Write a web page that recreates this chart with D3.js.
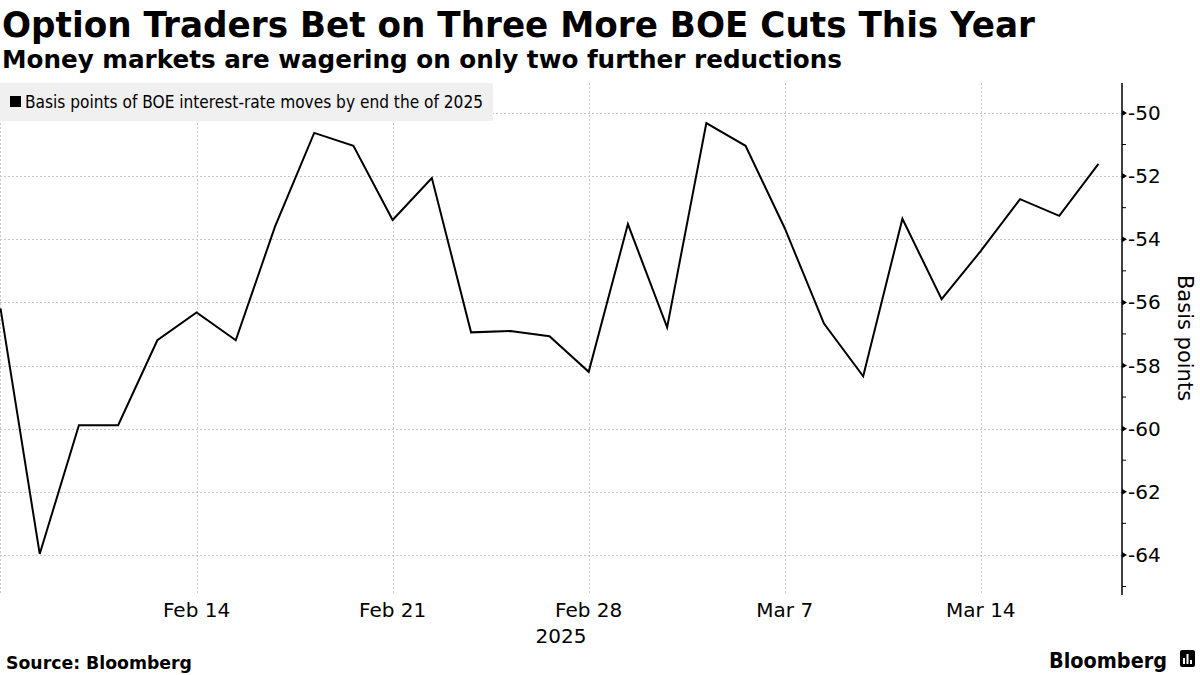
<!DOCTYPE html>
<html>
<head>
<meta charset="utf-8">
<script src="https://cdn.jsdelivr.net/npm/d3@7"></script>
<style>
  html, body { margin: 0; padding: 0; background: #fff; }
  svg { display: block; }
  text { font-family: "DejaVu Sans", sans-serif; }
</style>
</head>
<body>
<script>
// ---- data ----
const dates = ["2025-02-07","2025-02-10","2025-02-11","2025-02-12","2025-02-13","2025-02-14",
  "2025-02-17","2025-02-18","2025-02-19","2025-02-20","2025-02-21",
  "2025-02-24","2025-02-25","2025-02-26","2025-02-27","2025-02-28",
  "2025-03-03","2025-03-04","2025-03-05","2025-03-06","2025-03-07",
  "2025-03-10","2025-03-11","2025-03-12","2025-03-13","2025-03-14",
  "2025-03-17","2025-03-18","2025-03-19"];
const values = [-56.19,-63.97,-59.89,-59.89,-57.2,-56.32,
  -57.2,-53.6,-50.63,-51.04,-53.39,
  -52.06,-56.95,-56.91,-57.07,-58.2,
  -53.52,-56.79,-50.32,-51.04,-53.65,
  -56.67,-58.34,-53.35,-55.9,-54.37,
  -52.73,-53.26,-51.61];
const xTickDates = ["2025-02-14","2025-02-21","2025-02-28","2025-03-07","2025-03-14"];
const xTickLabels = ["Feb 14","Feb 21","Feb 28","Mar 7","Mar 14"];
const yTicks = [-50,-52,-54,-56,-58,-60,-62,-64];
const yMinorTicks = [-49,-51,-53,-55,-57,-59,-61,-63,-65];
const title = "Option Traders Bet on Three More BOE Cuts This Year";
const subtitle = "Money markets are wagering on only two further reductions";
const legendLabel = "Basis points of BOE interest-rate moves by end the of 2025";
const yAxisTitle = "Basis points";
const yearLabel = "2025";
const source = "Source: Bloomberg";

// ---- layout ----
const W = 1200, H = 675;
const plot = { left: 0.5, right: 1122, top: 83, bottom: 595 };

const svg = d3.select("body").append("svg").attr("width", W).attr("height", H);

const x = d3.scaleLinear().domain([0, 28.6]).range([plot.left, plot.right]);
const y = d3.scaleLinear().domain([-65.27, -49.05]).range([plot.bottom, plot.top]);
const idx = d => dates.indexOf(d);

// gridlines
const grid = svg.append("g");
grid.selectAll("line.h").data(yTicks).join("line")
  .attr("x1", 0).attr("x2", plot.right)
  .attr("y1", d => Math.round(y(d)) + 0.5).attr("y2", d => Math.round(y(d)) + 0.5)
  .attr("stroke", "#c8c8c8").attr("stroke-width", 1).attr("stroke-dasharray", "2,2");
grid.selectAll("line.v").data(xTickDates).join("line")
  .attr("x1", d => Math.round(x(idx(d))) + 0.5).attr("x2", d => Math.round(x(idx(d))) + 0.5)
  .attr("y1", plot.top).attr("y2", plot.bottom)
  .attr("stroke", "#c8c8c8").attr("stroke-width", 1).attr("stroke-dasharray", "2,2");
grid.append("line").attr("x1", 0.5).attr("x2", 0.5).attr("y1", plot.top).attr("y2", plot.bottom)
  .attr("stroke", "#c8c8c8").attr("stroke-width", 1).attr("stroke-dasharray", "2,2");

// legend box
const leg = svg.append("g");
leg.append("rect").attr("x", 0).attr("y", 83).attr("width", 493).attr("height", 38).attr("fill", "#f0f0f0");
leg.append("rect").attr("x", 10).attr("y", 96).attr("width", 11).attr("height", 11).attr("fill", "#000");
leg.append("text").attr("x", 25).attr("y", 108).attr("font-size", 17).attr("fill", "#000")
  .attr("textLength", 458).attr("lengthAdjust", "spacingAndGlyphs")
  .text(legendLabel);

// line
const line = d3.line().x((d, i) => x(i)).y(d => y(d));
svg.append("path").datum(values).attr("d", line)
  .attr("fill", "none").attr("stroke", "#000").attr("stroke-width", 2).attr("stroke-linejoin", "miter");

// y axis
const yAxisG = svg.append("g").attr("transform", `translate(${plot.right},0)`);
yAxisG.append("line").attr("x1", 0).attr("x2", 0).attr("y1", plot.top).attr("y2", plot.bottom)
  .attr("stroke", "#000").attr("stroke-width", 1.5);
yAxisG.selectAll("line.minor").data(yMinorTicks.filter(v => y(v) >= plot.top && y(v) <= plot.bottom)).join("line")
  .attr("x1", 0).attr("x2", 4).attr("y1", d => y(d)).attr("y2", d => y(d))
  .attr("stroke", "#000").attr("stroke-width", 1);
yAxisG.selectAll("path.major").data(yTicks).join("path")
  .attr("d", d => `M0,${y(d) - 3}L5,${y(d)}L0,${y(d) + 3}Z`).attr("fill", "#000");
yAxisG.selectAll("text.lbl").data(yTicks).join("text")
  .attr("x", 6).attr("y", d => y(d) + 7).attr("font-size", 20).attr("fill", "#000")
  .text(d => d3.format("d")(d).replace("\u2212", "-"));

// y axis title
svg.append("text").attr("transform", `translate(1178,338) rotate(90)`)
  .attr("text-anchor", "middle").attr("font-size", 21).attr("fill", "#000").text(yAxisTitle);

// x axis labels
svg.append("g").selectAll("text").data(xTickDates).join("text")
  .attr("x", d => x(idx(d))).attr("y", 617).attr("text-anchor", "middle")
  .attr("font-size", 20).attr("fill", "#000")
  .text((d, i) => xTickLabels[i]);
svg.append("text").attr("x", 561).attr("y", 643).attr("text-anchor", "middle")
  .attr("font-size", 20).attr("fill", "#000").text(yearLabel);

// titles
svg.append("text").attr("x", 2).attr("y", 37).attr("font-size", 36).attr("font-weight", "bold")
  .attr("textLength", 1033).attr("lengthAdjust", "spacingAndGlyphs").text(title);
svg.append("text").attr("x", 2).attr("y", 68).attr("font-size", 24).attr("font-weight", "bold")
  .attr("textLength", 840).attr("lengthAdjust", "spacingAndGlyphs").text(subtitle);

// footer
svg.append("text").attr("x", 6).attr("y", 669).attr("font-size", 17).attr("font-weight", "bold")
  .attr("textLength", 186).attr("lengthAdjust", "spacingAndGlyphs").text(source);
svg.append("text").attr("x", 1049).attr("y", 668).attr("font-size", 22).attr("font-weight", "bold")
  .attr("font-family", "Liberation Sans, Arial, sans-serif")
  .attr("textLength", 118).attr("lengthAdjust", "spacingAndGlyphs").text("Bloomberg");
// small logo mark
const logo = svg.append("g").attr("transform", "translate(1180,650)");
logo.append("rect").attr("x", 0).attr("y", 0).attr("width", 15).attr("height", 17).attr("rx", 2).attr("fill", "#000");
logo.selectAll("rect.bar").data([6, 10, 4]).join("rect")
  .attr("x", (d, i) => 3 + i * 3.5).attr("y", d => 14 - d).attr("width", 2).attr("height", d => d).attr("fill", "#fff");
</script>
</body>
</html>
